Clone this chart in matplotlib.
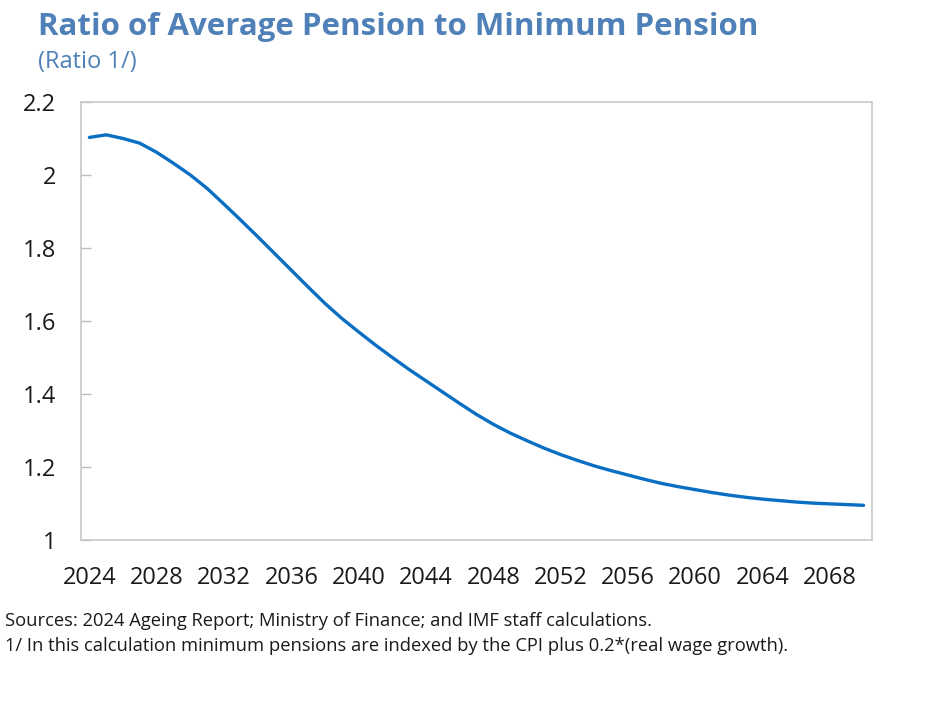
import numpy as np
import matplotlib
matplotlib.use("Agg")
import matplotlib.pyplot as plt

# donnees
years = list(range(2024, 2071))
ratio = [2.103, 2.110, 2.100, 2.087, 2.062, 2.032, 2.000, 1.963, 1.920, 1.876,
         1.831, 1.785, 1.739, 1.693, 1.648, 1.607, 1.570, 1.534, 1.500, 1.467,
         1.436, 1.405, 1.374, 1.344, 1.317, 1.293, 1.272, 1.252, 1.234, 1.218,
         1.203, 1.190, 1.178, 1.166, 1.155, 1.146, 1.138, 1.130, 1.123, 1.117,
         1.112, 1.108, 1.104, 1.101, 1.099, 1.097, 1.095]
tick_years = [str(y) for y in range(2024, 2071, 4)]
y_ticks = [1, 1.2, 1.4, 1.6, 1.8, 2, 2.2]

title = "Ratio of Average Pension to Minimum Pension"
subtitle = "(Ratio 1/)"
note1 = "Sources: 2024 Ageing Report; Ministry of Finance; and IMF staff calculations."
note2 = "1/ In this calculation minimum pensions are indexed by the CPI plus 0.2*(real wage growth)."

plt.rcParams['font.family'] = ['Open Sans', 'DejaVu Sans']

fig = plt.figure(figsize=(9.51, 7.24), dpi=100)
ax = fig.add_axes([81/951, 1-540/724, (872-81)/951, (540-102)/724])

x = np.arange(len(years))
ax.plot(x, ratio, color="#0a6fc2", lw=2.4, solid_capstyle="round")

ax.set_xlim(-0.5, len(years)-0.5)
ax.set_ylim(1, 2.2)
ax.set_xticks(x[::4])
ax.set_xticklabels(tick_years)
ax.set_yticks(y_ticks)
ax.set_yticklabels([f"{v:g}" for v in y_ticks])
ax.tick_params(axis="x", length=0, pad=19, labelsize=17, colors="#1a1a1a")
ax.tick_params(axis="y", direction="in", length=7, width=1, color="#bfbfbf",
               pad=18, labelsize=17, labelcolor="#1a1a1a")
for s in ax.spines.values():
    s.set_color("#c8c8c8")
    s.set_linewidth(1.2)

# titres
fig.text(38/951, 1-35/724, title, fontsize=22.5, fontweight="bold",
         color="#4f81b8", va="baseline")
fig.text(38/951, 1-68/724, subtitle, fontsize=17, color="#4f81b8", va="baseline")
# notes
fig.text(5/951, 1-626/724, note1, fontsize=13.2, color="#1a1a1a", va="baseline")
fig.text(5/951, 1-651/724, note2, fontsize=13.2, color="#1a1a1a", va="baseline")

fig.savefig("out.png", dpi=100)
